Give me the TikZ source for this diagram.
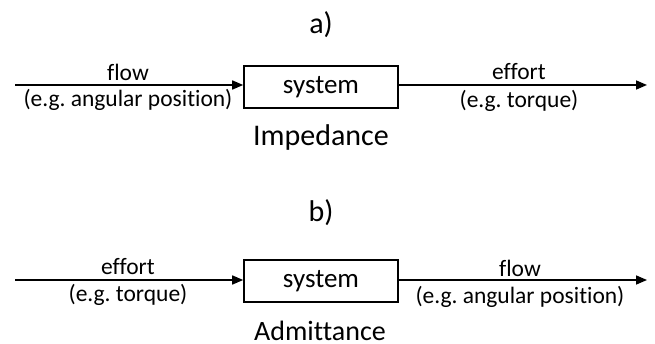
\documentclass[tikz,border=0pt]{standalone}
\usepackage{fontspec}
\setmainfont[Ligatures=NoCommon]{Carlito}
\usetikzlibrary{arrows.meta}
\frenchspacing
\begin{document}
\begin{tikzpicture}[x=1pt,y=-1pt,
  sysbox/.style={draw,line width=1.6pt,minimum width=154pt,minimum height=42pt,inner sep=0pt,font=\fontsize{27}{29}\selectfont},
  lbl/.style={font=\fontsize{23.5}{25}\selectfont,inner sep=0pt},
  big/.style={font=\fontsize{30}{32}\selectfont,inner sep=0pt},
  conn/.style={line width=1.6pt,-{Triangle[length=11pt,width=9pt]}}]
\useasboundingbox (0,0) rectangle (655,344);
% a)
\node[big] (ta) at (321,25) {a)};
\node[sysbox] (sa) at (321,87) {system};
\coordinate (ina) at (15,85);
\coordinate (outa) at (647,85);
\draw[conn] (ina) -- (ina -| sa.west);
\draw[conn] (sa.east |- outa) -- (outa);
\node[lbl] (fa) at (128,72) {flow};
\node[lbl] (fa2) at (128,100) {(e.g. angular position)};
\node[lbl] (ea) at (519,72) {effort};
\node[lbl] (ea2) at (519,101) {(e.g. torque)};
\node[big] (ia) at (321,138) {Impedance};
% b)
\node[big] (tb) at (321,213) {b)};
\node[sysbox] (sb) at (321,281) {system};
\coordinate (inb) at (15,280);
\coordinate (outb) at (647,280);
\draw[conn] (inb) -- (inb -| sb.west);
\draw[conn] (sb.east |- outb) -- (outb);
\node[lbl] (eb) at (128,267) {effort};
\node[lbl] (eb2) at (128,295) {(e.g. torque)};
\node[lbl] (fb) at (520,268) {flow};
\node[lbl] (fb2) at (520,297) {(e.g. angular position)};
\node[big,font=\fontsize{28}{30}\selectfont] (ib) at (320,331) {Admittance};
\end{tikzpicture}
\end{document}
